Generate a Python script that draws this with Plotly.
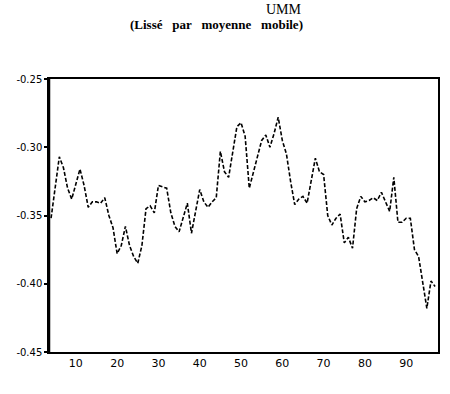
import plotly.graph_objects as go

x_vals = list(range(4, 98))
y_vals = [
    -0.352, -0.330, -0.307, -0.315, -0.330, -0.338, -0.327, -0.316, -0.328, -0.344,
    -0.340, -0.340, -0.341, -0.337, -0.350, -0.359, -0.378, -0.372, -0.358, -0.372,
    -0.380, -0.385, -0.372, -0.345, -0.343, -0.348, -0.328, -0.329, -0.330, -0.348,
    -0.358, -0.362, -0.352, -0.341, -0.363, -0.348, -0.331, -0.340, -0.344, -0.340,
    -0.337, -0.303, -0.318, -0.322, -0.305, -0.285, -0.282, -0.292, -0.330, -0.318,
    -0.307, -0.295, -0.291, -0.300, -0.290, -0.278, -0.295, -0.305, -0.325, -0.342,
    -0.338, -0.336, -0.341, -0.325, -0.308, -0.318, -0.320, -0.350, -0.357, -0.352,
    -0.349, -0.370, -0.366, -0.374, -0.345, -0.336, -0.340, -0.339, -0.337, -0.339,
    -0.333, -0.340, -0.347, -0.322, -0.355, -0.355, -0.352, -0.352, -0.375, -0.380,
    -0.398, -0.418, -0.398, -0.402,
]
x_ticks = [10, 20, 30, 40, 50, 60, 70, 80, 90]
x_tick_text = ["10", "20", "30", "40", "50", "60", "70", "80", "90"]
y_ticks = [-0.45, -0.40, -0.35, -0.30, -0.25]
y_tick_text = ["-0.45", "-0.40", "-0.35", "-0.30", "-0.25"]

fig = go.Figure()
fig.add_trace(go.Scatter(
    x=x_vals, y=y_vals, mode="lines",
    line=dict(color="black", width=1.6, dash="4px,2px"),
    showlegend=False,
))

fig.update_layout(
    width=450, height=394,
    margin=dict(l=49, r=10, t=79, b=42),
    paper_bgcolor="white", plot_bgcolor="white",
    font=dict(family="DejaVu Sans", color="black", size=10),
    xaxis=dict(
        range=[3.5, 97.7], tickvals=x_ticks, ticktext=x_tick_text,
        showgrid=False, zeroline=False, showline=True, mirror=True,
        linecolor="black", linewidth=1.5, ticks="", ticklen=0,
        tickfont=dict(family="DejaVu Sans", size=11, color="black"),
    ),
    yaxis=dict(
        range=[-0.45, -0.25], tickvals=y_ticks, ticktext=y_tick_text,
        showgrid=False, zeroline=False, showline=True, mirror=True,
        linecolor="black", linewidth=1.5, ticks="outside", ticklen=3,
        tickwidth=1.5, tickcolor="black",
        tickfont=dict(family="DejaVu Sans", size=10, color="black"),
    ),
    annotations=[
        dict(text="UMM", x=0.605, xref="paper", y=1.256, yref="paper",
             xanchor="center", yanchor="middle", showarrow=False,
             font=dict(family="Liberation Serif", size=14, color="black")),
        dict(text="<b>(Lissé\u00a0\u00a0\u00a0par\u00a0\u00a0\u00a0moyenne\u00a0\u00a0\u00a0mobile)</b>",
             x=0.43, xref="paper", y=1.198, yref="paper",
             xanchor="center", yanchor="middle", showarrow=False,
             font=dict(family="Liberation Serif", size=13, color="black")),
    ],
)

fig.add_shape(type="line", xref="paper", yref="paper", x0=0, x1=0, y0=0, y1=1,
              line=dict(color="black", width=2.5))

fig.write_html("out.html")
